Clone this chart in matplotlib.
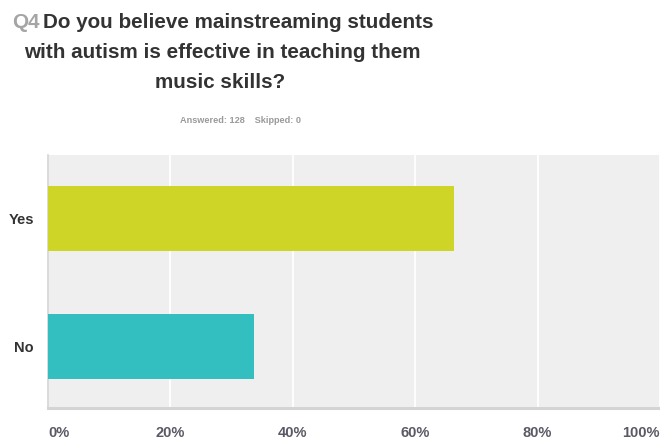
import matplotlib
matplotlib.use("Agg")
import matplotlib.pyplot as plt

plt.rcParams["font.family"] = ["Liberation Sans", "DejaVu Sans"]

# 调查结果数据
categories = ["Yes", "No"]
percents = [66.41, 33.59]
bar_colors = ["#cfd527", "#33bec0"]
xticks = [0, 20, 40, 60, 80, 100]
xtick_labels = ["0%", "20%", "40%", "60%", "80%", "100%"]
answered = 128
skipped = 0

W, H = 660, 443
fig = plt.figure(figsize=(W / 100, H / 100), dpi=100)
ax = fig.add_axes([48 / W, 1 - 408 / H, 612 / W, 253 / H])
ax.set_facecolor("#efefef")

ypos = list(range(len(categories)))
ax.barh(ypos, percents, height=0.51, color=bar_colors, zorder=3)
ax.set_xlim(0, 100)
ax.set_ylim(len(categories) - 1 + 0.48, -0.5)
ax.set_yticks(ypos)
ax.set_yticklabels(categories, fontsize=10.5, fontweight="bold", color="#333333")
ax.tick_params(axis="y", length=0, pad=10)

ax.set_xticks(xticks)
ax.set_xticklabels([])
ax.tick_params(axis="x", length=0)
ax.grid(axis="x", color="white", lw=1.3, zorder=1)
for x, lab in zip(xticks, xtick_labels):
    ha = "left" if x == xticks[0] else ("right" if x == xticks[-1] else "center")
    ax.text(x, -0.1, lab, transform=ax.get_xaxis_transform(), ha=ha, va="center",
            fontsize=10.5, fontweight="bold", color="#5a5a66")

for s in ["top", "right"]:
    ax.spines[s].set_visible(False)
ax.spines["left"].set_color("#d4d4d4")
ax.spines["left"].set_linewidth(1.2)
ax.spines["bottom"].set_color("#d4d4d4")
ax.spines["bottom"].set_linewidth(2.2)

# 标题
tsize = 14.9
fig.text(12 / W, 1 - 22 / H, "Q4", fontsize=tsize, fontweight="bold",
         color="#a5a5a5", va="center", ha="left")
fig.text(43 / W, 1 - 22 / H, "Do you believe mainstreaming students",
         fontsize=tsize, fontweight="bold", color="#333333", va="center", ha="left")
fig.text(222 / W, 1 - 52 / H, "with autism is effective in teaching them",
         fontsize=tsize, fontweight="bold", color="#333333", va="center", ha="center")
fig.text(220 / W, 1 - 83 / H, "music skills?",
         fontsize=tsize, fontweight="bold", color="#333333", va="center", ha="center")
fig.text(240 / W, 1 - 121 / H, f"Answered: {answered}    Skipped: {skipped}",
         fontsize=6.6, fontweight="bold", color="#9a9a9a", va="center", ha="center")

fig.savefig("out.png", dpi=100, facecolor="white")
